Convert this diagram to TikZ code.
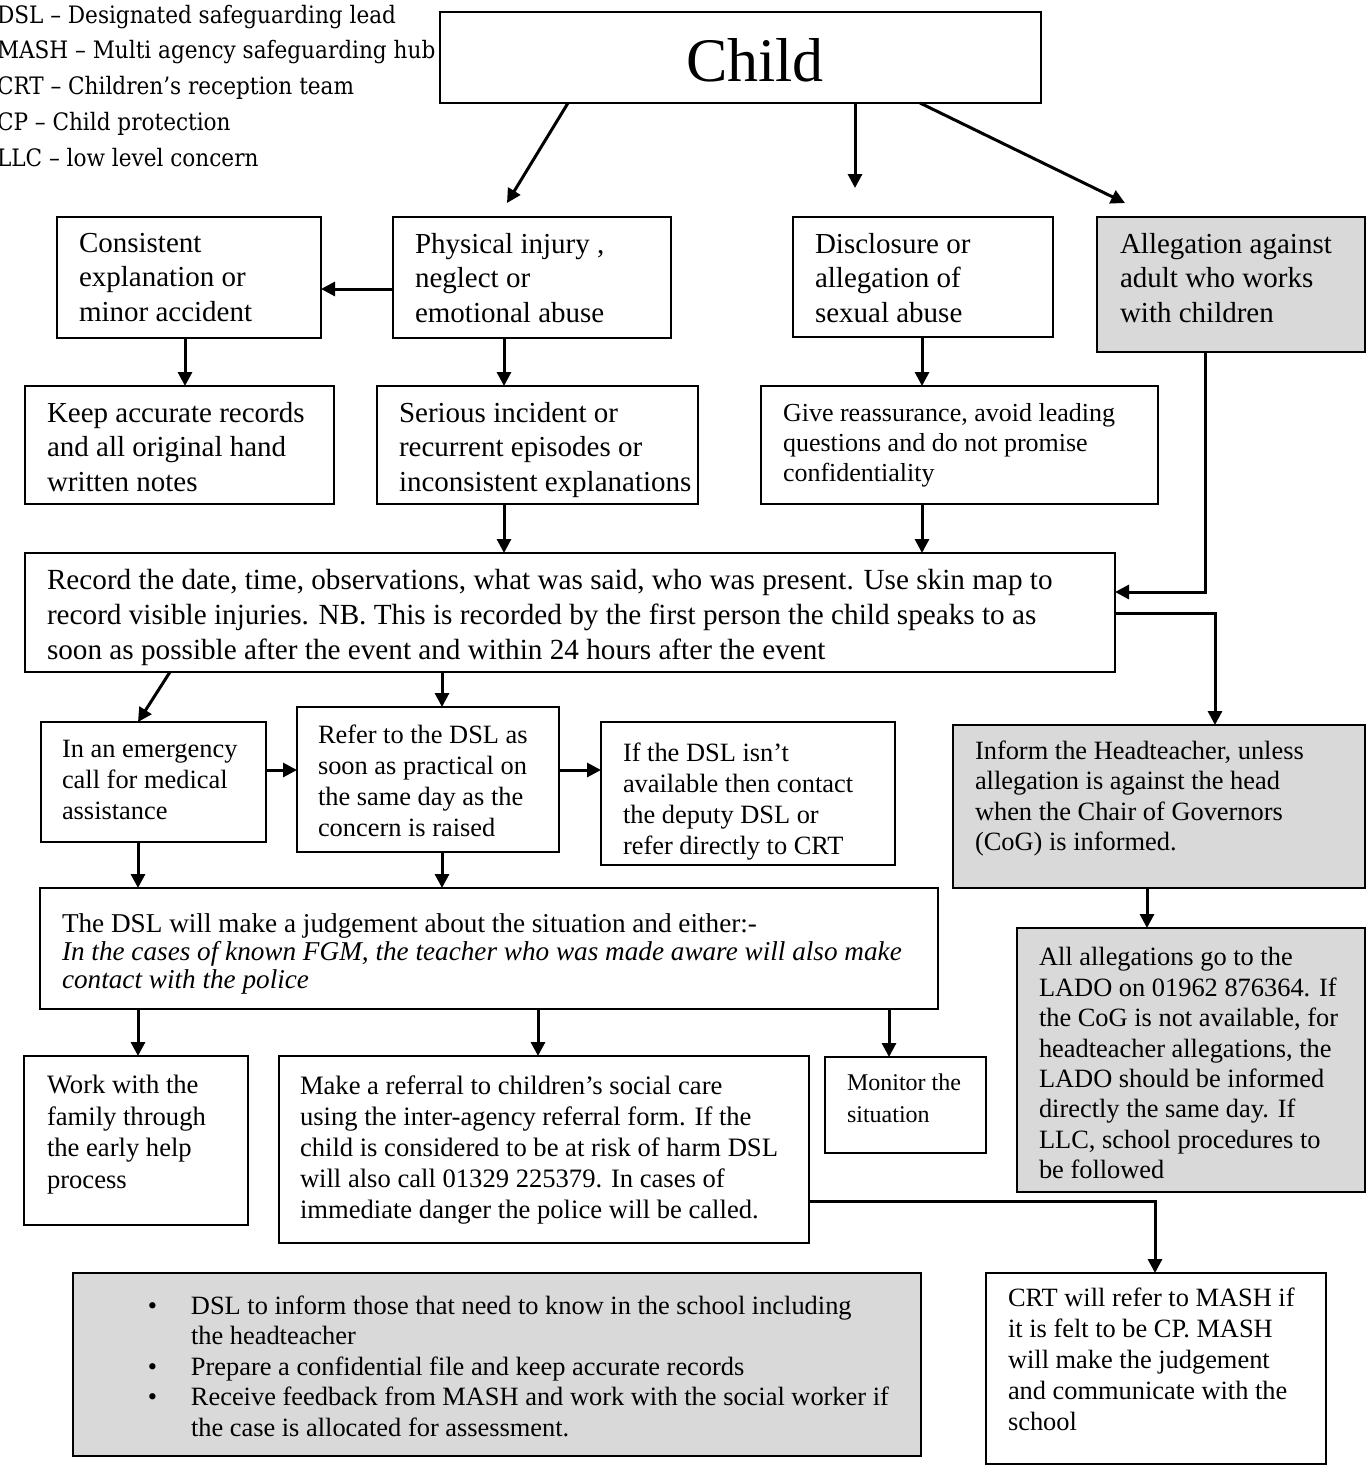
\documentclass[tikz,border=0pt]{standalone}
\usepackage{fontspec}
\setmainfont{Liberation Serif}
\newfontfamily\legfont{DejaVu Serif Condensed}
\usetikzlibrary{arrows.meta}
\definecolor{boxgray}{HTML}{D9D9D9}
\newcommand\fs[2]{\fontsize{#1pt}{#2pt}\selectfont}
\newcommand\mkbox[6][bx]{\node[#1, minimum width={(#5-#3)*0.5pt}, minimum height={(#6-#4)*0.5pt}] (#2) at (#3,#4) {};}
\tikzset{
  bx/.style={draw=black, line width=1pt, inner sep=0pt, outer sep=0pt, anchor=north west},
  gbx/.style={bx, fill=boxgray},
  tx/.style={anchor=north west, inner sep=0pt, outer sep=0pt, align=left},
  big/.style={font=\fs{14.5}{17.25}},
  mid/.style={font=\fs{13.2}{15.4}},
  arr/.style={line width=1.5pt, -{Triangle[length=7pt,width=7pt]}},
  ln/.style={line width=1.5pt},
}
\begin{document}
\begin{tikzpicture}[x=0.5pt,y=-0.5pt]
\useasboundingbox (0,0) rectangle (1367,1472);

% legend
\node[tx, font=\legfont\fs{12}{17.85}] (legend) at (-3,5)
 {DSL – Designated safeguarding lead\\MASH – Multi agency safeguarding hub\\CRT – Children’s reception team\\CP – Child protection\\LLC – low level concern};

% boxes
\mkbox{child}{440}{12}{1041}{103}
\mkbox{cons}{57}{217}{321}{338}
\mkbox{phys}{393}{217}{671}{338}
\mkbox{disc}{793}{217}{1053}{337}
\mkbox[gbx]{alleg}{1097}{217}{1365}{352}
\mkbox{keep}{25}{386}{334}{504}
\mkbox{serious}{377}{386}{698}{504}
\mkbox{give}{761}{386}{1158}{504}
\mkbox{record}{25}{553}{1115}{672}
\mkbox{emerg}{41}{722}{266}{842}
\mkbox{refer}{297}{707}{559}{852}
\mkbox{ifdsl}{601}{722}{895}{865}
\mkbox[gbx]{inform}{953}{725}{1365}{888}
\mkbox{judge}{40}{888}{938}{1009}
\mkbox[gbx]{alla}{1017}{928}{1365}{1192}
\mkbox{work}{24}{1056}{248}{1225}
\mkbox{refl}{279}{1056}{809}{1243}
\mkbox{mon}{825}{1057}{986}{1153}
\mkbox{crt}{986}{1273}{1326}{1464}
\mkbox[gbx]{bul}{73}{1273}{921}{1456}

% texts
\node[anchor=center, inner sep=0pt, font=\fs{31}{36}] (child-t) at (755,60) {Child};
\node[tx, big] (cons-t) at (79,233) {Consistent\\explanation or\\minor accident};
\node[tx, big] (phys-t) at (415,233) {Physical injury ,\\neglect or\\emotional abuse};
\node[tx, big] (disc-t) at (815,233) {Disclosure or\\allegation of\\sexual abuse};
\node[tx, big] (alleg-t) at (1120,233) {Allegation against\\adult who works\\with children};
\node[tx, big] (keep-t) at (47,402) {Keep accurate records\\and all original hand\\written notes};
\node[tx, big] (serious-t) at (399,402) {Serious incident or\\recurrent episodes or\\inconsistent explanations};
\node[tx, font=\fs{13}{15}] (give-t) at (783,403.5) {Give reassurance, avoid leading\\questions and do not promise\\confidentiality};
\node[tx, font=\fs{14.6}{17.5}] (record-t) at (47,569) {Record the date, time, observations, what was said, who was present. Use skin map to\\record visible injuries. NB. This is recorded by the first person the child speaks to as\\soon as possible after the event and within 24 hours after the event};
\node[tx, font=\fs{13.2}{15.5}] (emerg-t) at (62,740.5) {In an emergency\\call for medical\\assistance};
\node[tx, font=\fs{13.2}{15.5}] (refer-t) at (318,724.5) {Refer to the DSL as\\soon as practical on\\the same day as the\\concern is raised};
\node[tx, font=\fs{13.2}{15.5}] (ifdsl-t) at (623,742.5) {If the DSL isn’t\\available then contact\\the deputy DSL or\\refer directly to CRT};
\node[tx, font=\fs{13.2}{15.25}] (inform-t) at (975,740.5) {Inform the Headteacher, unless\\allegation is against the head\\when the Chair of Governors\\(CoG) is informed.};
\node[tx, font=\fs{13.6}{14}] (judge-t) at (62,914) {The DSL will make a judgement about the situation and either:-\\\textit{In the cases of known FGM, the teacher who was made aware will also make}\\\textit{contact with the police}};
\node[tx, font=\fs{13.2}{15.2}] (alla-t) at (1039,947.5) {All allegations go to the\\LADO on 01962 876364. If\\the CoG is not available, for\\headteacher allegations, the\\LADO should be informed\\directly the same day. If\\LLC, school procedures to\\be followed};
\node[tx, font=\fs{13.3}{15.75}] (work-t) at (47,1075.5) {Work with the\\family through\\the early help\\process};
\node[tx, font=\fs{13.3}{15.5}] (refl-t) at (300,1075.5) {Make a referral to children’s social care\\using the inter-agency referral form. If the\\child is considered to be at risk of harm DSL\\will also call 01329 225379. In cases of\\immediate danger the police will be called.};
\node[tx, font=\fs{12}{16}] (mon-t) at (847,1074) {Monitor the\\situation};
\node[tx, font=\fs{13.2}{15.5}] (crt-t) at (1008,1287.5) {CRT will refer to MASH if\\it is felt to be CP. MASH\\will make the judgement\\and communicate with the\\school};
\node[tx, font=\fs{13.2}{15.25}] (bul-t) at (191,1295.5)
 {\llap{\textbullet\hspace{17pt}}DSL to inform those that need to know in the school including\\the headteacher\\\llap{\textbullet\hspace{17pt}}Prepare a confidential file and keep accurate records\\\llap{\textbullet\hspace{17pt}}Receive feedback from MASH and work with the social worker if\\the case is allocated for assessment.};

% free arrow ends
\coordinate (e1) at (507,203);
\coordinate (e2) at (855,188);
\coordinate (e3) at (1125,203);

% connectors
\draw[arr] (568,0 |- child.south) -- (e1);
\draw[arr] (855,0 |- child.south) -- (e2);
\draw[arr] (920,0 |- child.south) -- (e3);
\draw[arr] (0,289 -| phys.west) -- (0,289 -| cons.east);
\draw[arr] (185,0 |- cons.south) -- (185,0 |- keep.north);
\draw[arr] (504,0 |- phys.south) -- (504,0 |- serious.north);
\draw[arr] (922,0 |- disc.south) -- (922,0 |- give.north);
\draw[arr] (504,0 |- serious.south) -- (504,0 |- record.north);
\draw[arr] (922,0 |- give.south) -- (922,0 |- record.north);
\draw[arr] (1205,0 |- alleg.south) |- (0,592 -| record.east);
\draw[arr] (0,613 -| record.east) -| (1215,0 |- inform.north);
\draw[arr] (1147,0 |- inform.south) -- (1147,0 |- alla.north);
\draw[arr] (170,0 |- record.south) -- (138,0 |- emerg.north);
\draw[arr] (442,0 |- record.south) -- (442,0 |- refer.north);
\draw[arr] (0,770 -| emerg.east) -- (0,770 -| refer.west);
\draw[arr] (0,770 -| refer.east) -- (0,770 -| ifdsl.west);
\draw[arr] (138,0 |- emerg.south) -- (138,0 |- judge.north);
\draw[arr] (442,0 |- refer.south) -- (442,0 |- judge.north);
\draw[arr] (138,0 |- judge.south) -- (138,0 |- work.north);
\draw[arr] (538,0 |- judge.south) -- (538,0 |- refl.north);
\draw[arr] (889,0 |- judge.south) -- (889,0 |- mon.north);
\draw[arr] (0,1201 -| refl.east) -| (1155,0 |- crt.north);
\end{tikzpicture}
\end{document}
